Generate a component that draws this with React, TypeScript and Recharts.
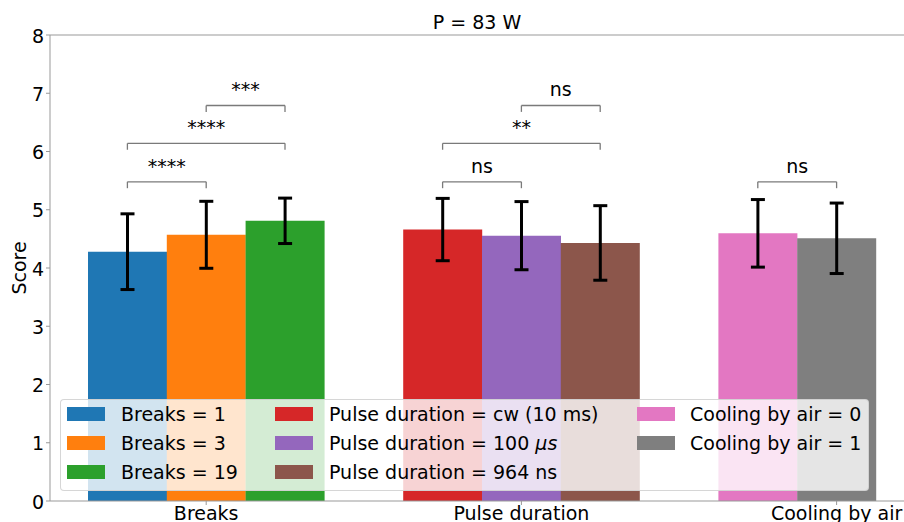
import { BarChart, Bar, XAxis, YAxis, Cell, ErrorBar, ReferenceLine } from "recharts";

// bar slots, left to right; the two "gap" slots keep the groups apart
const slots = ["b1", "b3", "b19", "gapA", "pcw", "p100", "p964", "gapB", "c0", "c1"];
const scores = [4.28, 4.57, 4.81, null, 4.66, 4.555, 4.43, null, 4.595, 4.51];
const errors = [0.65, 0.575, 0.39, null, 0.535, 0.585, 0.64, null, 0.58, 0.605];
const barColors = [
  "#1f77b4", "#ff7f0e", "#2ca02c", "none",
  "#d62728", "#9467bd", "#8c564b", "none",
  "#e377c2", "#7f7f7f",
];
const seriesNames = [
  "Breaks = 1", "Breaks = 3", "Breaks = 19", "",
  "Pulse duration = cw (10 ms)", "Pulse duration = 100 μs", "Pulse duration = 964 ns", "",
  "Cooling by air = 0", "Cooling by air = 1",
];
const groupTicks: Record<string, string> = {
  b3: "Breaks",
  p100: "Pulse duration",
  c1: "Cooling by air",
};
const yTicks = [0, 1, 2, 3, 4, 5, 6, 7, 8];
const brackets = [
  { from: "b1", to: "b3", y: 5.48, text: "****" },
  { from: "b1", to: "b19", y: 6.14, text: "****" },
  { from: "b3", to: "b19", y: 6.79, text: "***" },
  { from: "pcw", to: "p100", y: 5.48, text: "ns" },
  { from: "pcw", to: "p964", y: 6.14, text: "**" },
  { from: "p100", to: "p964", y: 6.79, text: "ns" },
  { from: "c0", to: "c1", y: 5.48, text: "ns" },
];
const legendColumns = [[0, 1, 2], [4, 5, 6], [8, 9]];

const data = slots.map((slot, i) => ({ slot, score: scores[i], err: errors[i] }));

const AXIS = "#999999";
const BRACKET = "#7a7a7a";
const FONT = 19;

function GroupTick(props: any) {
  const { x, y, payload } = props;
  const label = groupTicks[payload.value];
  if (!label) return <g />;
  return (
    <g>
      <line x1={x} x2={x} y1={y} y2={y + 4} stroke={AXIS} />
      <text x={x} y={y + 18.5} textAnchor="middle" fontSize={FONT} fill="#000">
        {label}
      </text>
    </g>
  );
}

function legendText(name: string) {
  if (name.endsWith("μs")) {
    return (
      <>
        {name.slice(0, -2)}
        <i>μs</i>
      </>
    );
  }
  return name;
}

const legendX = [
  { swatch: 7, text: 61 },
  { swatch: 215, text: 269 },
  { swatch: 577, text: 630 },
];
const rowY = [15.3, 44.3, 73];

export default function App() {
  return (
    <div
      style={{
        position: "absolute",
        left: 0,
        top: 0,
        width: 904,
        height: 522,
        overflow: "hidden",
        fontFamily: "'DejaVu Sans', sans-serif",
      }}
    >
      <BarChart
        width={904}
        height={522}
        data={data}
        margin={{ top: 35, right: 0, bottom: 0, left: 0 }}
        barCategoryGap={0}
        barGap={0}
      >
        <XAxis
          dataKey="slot"
          type="category"
          padding={{ left: 38, right: 28 }}
          axisLine={{ stroke: AXIS }}
          tickLine={false}
          tickSize={0}
          tickMargin={0}
          interval={0}
          height={21}
          tick={<GroupTick />}
        />
        <YAxis
          type="number"
          domain={[0, 8]}
          ticks={yTicks}
          width={50}
          tickSize={4}
          tickMargin={2}
          axisLine={{ stroke: AXIS }}
          tickLine={{ stroke: AXIS }}
          tick={{ fill: "#000", fontSize: FONT, dy: 1 }}
          label={{
            content: ({ viewBox }: any) => {
              const cx = 26;
              const cy = viewBox.y + viewBox.height / 2;
              return (
                <text
                  x={cx}
                  y={cy}
                  transform={`rotate(-90, ${cx}, ${cy})`}
                  textAnchor="middle"
                  fontSize={FONT}
                  fill="#000"
                >
                  Score
                </text>
              );
            },
          }}
        />
        <ReferenceLine
          y={8}
          stroke={AXIS}
          label={{ value: "P = 83 W", position: "top", offset: 6, fill: "#000", fontSize: FONT }}
        />
        <Bar dataKey="score" isAnimationActive={false}>
          {data.map((d, i) => (
            <Cell key={d.slot} fill={barColors[i]} />
          ))}
          <ErrorBar dataKey="err" width={7} strokeWidth={3} stroke="#000" direction="y" />
        </Bar>
        {brackets.map((b, i) => (
          <ReferenceLine
            key={`h${i}`}
            segment={[
              { x: b.from, y: b.y },
              { x: b.to, y: b.y },
            ]}
            stroke={BRACKET}
            strokeWidth={1.3}
            label={{ value: b.text, position: "top", offset: 9, fill: "#000", fontSize: FONT }}
          />
        ))}
        {brackets.map((b, i) => (
          <ReferenceLine
            key={`l${i}`}
            segment={[
              { x: b.from, y: b.y },
              { x: b.from, y: b.y - 0.11 },
            ]}
            stroke={BRACKET}
            strokeWidth={1.3}
          />
        ))}
        {brackets.map((b, i) => (
          <ReferenceLine
            key={`r${i}`}
            segment={[
              { x: b.to, y: b.y },
              { x: b.to, y: b.y - 0.11 },
            ]}
            stroke={BRACKET}
            strokeWidth={1.3}
          />
        ))}
      </BarChart>

      <div
        style={{
          position: "absolute",
          left: 60,
          top: 399,
          width: 809,
          height: 92,
          boxSizing: "border-box",
          background: "rgba(255,255,255,0.8)",
          border: "1px solid rgba(204,204,204,0.8)",
          borderRadius: 4,
          fontSize: FONT,
          color: "#000",
        }}
      >
        {legendColumns.map((col, c) =>
          col.map((idx, r) => (
            <div key={seriesNames[idx]}>
              <div
                style={{
                  position: "absolute",
                  left: legendX[c].swatch - 1,
                  top: rowY[r] - 7 - 1,
                  width: 38,
                  height: 14,
                  background: barColors[idx],
                }}
              />
              <div
                style={{
                  position: "absolute",
                  left: legendX[c].text - 1,
                  top: rowY[r] - 12,
                  lineHeight: "22px",
                  whiteSpace: "nowrap",
                }}
              >
                {legendText(seriesNames[idx])}
              </div>
            </div>
          ))
        )}
      </div>
    </div>
  );
}
